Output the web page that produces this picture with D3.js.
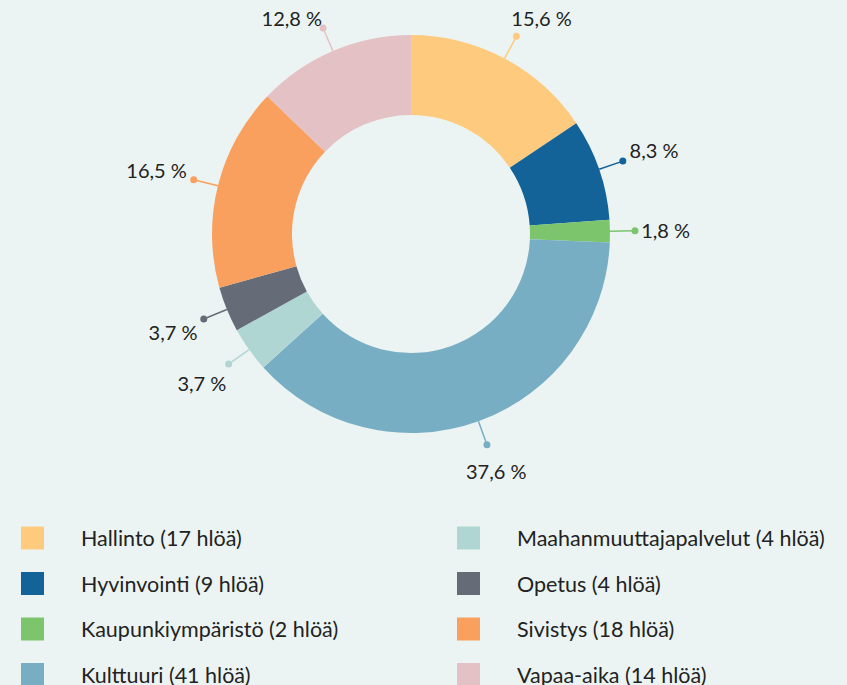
<!DOCTYPE html>
<html>
<head>
<meta charset="utf-8">
<script src="https://cdn.jsdelivr.net/npm/d3@7"></script>
<style>
  body { margin: 0; background: #ecf4f3; }
  svg { display: block; font-family: Lato, "Open Sans", sans-serif; }
</style>
</head>
<body>
<svg class="chart"></svg>
<script>
var categories = ['Hallinto', 'Hyvinvointi', 'Kaupunkiympäristö', 'Kulttuuri',
  'Maahanmuuttajapalvelut', 'Opetus', 'Sivistys', 'Vapaa-aika'];
var persons = [17, 9, 2, 41, 4, 4, 18, 14];
var colors = ['#fecb7e', '#136399', '#7cc56c', '#78aec4',
  '#b0d6d4', '#656c77', '#f9a05f', '#e3c1c5'];

var width = 847;
var height = 685;
var cx = 411, cy = 234;
var outer = 199, inner = 119;
var dotRadius = 224;

var svg = d3.select('.chart')
  .attr('width', width)
  .attr('height', height);

svg.append('rect')
  .attr('width', width)
  .attr('height', height)
  .attr('fill', '#ecf4f3');

var total = d3.sum(persons);
var fmt = d3.formatLocale({decimal: ',', thousands: ' ', grouping: [3], currency: ['', '€']}).format('.1f');

var data = categories.map((c, i) => ({name: c, value: persons[i], color: colors[i]}));

var pie = d3.pie().value(d => d.value).sort(null);
var arc = d3.arc().innerRadius(inner).outerRadius(outer);
var arcs = pie(data);

var chart = svg.append('g')
  .attr('transform', 'translate(' + cx + ',' + cy + ')');

chart.selectAll('.slice')
  .data(arcs)
  .enter().append('path')
  .attr('class', 'slice')
  .attr('d', arc)
  .attr('fill', d => d.data.color);

// labels with connectors
function mid(d) {
  return (d.startAngle + d.endAngle) / 2;
}
function pt(a, r) {
  return [Math.sin(a) * r, -Math.cos(a) * r];
}

var labels = chart.selectAll('.label')
  .data(arcs)
  .enter().append('g')
  .attr('class', 'label');

labels.append('line')
  .attr('x1', d => pt(mid(d), outer)[0])
  .attr('y1', d => pt(mid(d), outer)[1])
  .attr('x2', d => pt(mid(d), dotRadius)[0])
  .attr('y2', d => pt(mid(d), dotRadius)[1])
  .attr('stroke', d => d.data.color)
  .attr('stroke-width', 1.5);

labels.append('circle')
  .attr('cx', d => pt(mid(d), dotRadius)[0])
  .attr('cy', d => pt(mid(d), dotRadius)[1])
  .attr('r', 3.5)
  .attr('fill', d => d.data.color);

labels.append('text')
  .text(d => fmt(d.data.value / total * 100) + ' %')
  .attr('font-size', 20)
  .attr('fill', '#222')
  .attr('text-anchor', 'middle')
  .attr('dominant-baseline', 'central')
  .each(function(d) {
    var a = mid(d);
    var box = this.getBBox();
    var ux = Math.sin(a), uy = -Math.cos(a);
    var r = dotRadius + 6 + Math.abs(ux) * box.width / 2 + Math.abs(uy) * box.height / 2;
    var x = ux * r, y = uy * r;
    // keep top labels inside the picture, push them sideways instead
    var minY = 18 - cy;
    if (y < minY) {
      x += (ux < 0 ? -1 : 1) * (minY - y) * 1.2;
      y = minY;
    }
    d3.select(this)
      .attr('x', x)
      .attr('y', y);
  });

// legend, two columns
var legend = svg.append('g')
  .attr('class', 'legend');

var rowsPerCol = 4;
var colX = d3.scaleOrdinal().domain([0, 1]).range([21, 457]);
var rowY = d3.scaleLinear().domain([0, 1]).range([538, 583.5]);

var item = legend.selectAll('.item')
  .data(data)
  .enter().append('g')
  .attr('class', 'item')
  .attr('transform', (d, i) => 'translate(' + colX(Math.floor(i / rowsPerCol)) + ',' + rowY(i % rowsPerCol) + ')');

item.append('rect')
  .attr('x', 0)
  .attr('y', -11.5)
  .attr('width', 23)
  .attr('height', 23)
  .attr('fill', d => d.color);

item.append('text')
  .attr('x', 60)
  .attr('y', 0)
  .attr('dominant-baseline', 'central')
  .attr('font-size', 21.5)
  .attr('fill', '#222')
  .text(d => d.name + ' (' + d.value + ' hlöä)');
</script>
</body>
</html>
